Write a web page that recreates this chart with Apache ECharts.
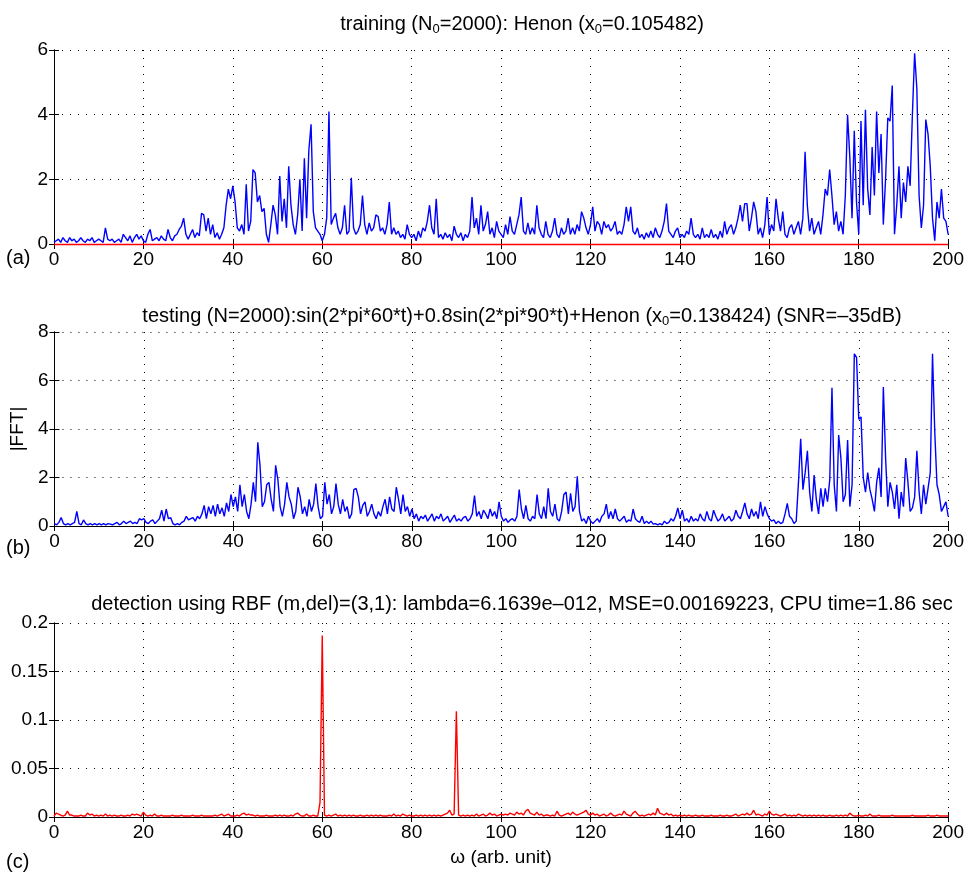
<!DOCTYPE html>
<html>
<head>
<meta charset="utf-8">
<script src="https://cdn.jsdelivr.net/npm/echarts@6/dist/echarts.min.js"></script>
<style>
  html, body { margin: 0; padding: 0; background: #fff; }
  #chart { width: 967px; height: 874px; }
</style>
</head>
<body>
<div id="chart"></div>
<script>
// spectra sampled every 0.5 arb. unit, 0..200 (401 values each)
const STEP = 0.5;

// (a) training: Henon
const trainData = [
  0.05, 0.1, 0.15, 0.05, 0.2, 0.1, 0.05, 0.2, 0.1, 0.15, 0.05, 0.1, 0.2, 0.1, 0.05, 0.15, 0.1, 0.2, 0.05, 0.1, 0.15,
  0.1, 0.05, 0.5, 0.15, 0.1, 0.15, 0.05, 0.1, 0.15, 0.05, 0.3, 0.2, 0.1, 0.25, 0.05, 0.2, 0.3, 0.15, 0.25, 0.1,
  0.05, 0.3, 0.45, 0.1, 0.15, 0.2, 0.1, 0.25, 0.15, 0.1, 0.45, 0.2, 0.1, 0.25, 0.3, 0.45, 0.55, 0.8, 0.3, 0.15,
  0.3, 0.45, 0.2, 0.35, 0.25, 0.95, 0.9, 0.4, 0.8, 0.3, 0.6, 0.2, 0.35, 0.15, 0.3, 0.5, 1.2, 1.7, 1.4, 1.8,
  1.3, 0.5, 0.4, 0.6, 0.3, 1.85, 0.4, 0.7, 2.3, 2.2, 1.3, 1.5, 1.0, 1.1, 0.3, 0.05, 0.6, 1.2, 0.9, 0.3,
  2.1, 0.7, 1.4, 0.5, 2.4, 1.2, 0.6, 0.3, 0.9, 2.0, 0.4, 2.65, 0.8, 2.9, 3.7, 1.0, 0.5, 0.4, 0.3, 0.1,
  0.3, 0.8, 4.1, 0.6, 0.8, 0.95, 0.5, 0.3, 0.5, 1.2, 0.3, 0.4, 2.05, 0.5, 0.3, 0.4, 0.6, 1.5, 0.6, 0.3,
  0.65, 0.4, 0.5, 0.9, 0.85, 0.4, 0.5, 0.3, 0.6, 1.3, 0.3, 0.5, 0.3, 0.4, 0.2, 0.3, 0.15, 0.6, 0.3, 0.2,
  0.3, 0.1, 0.4, 0.2, 0.5, 0.4, 0.7, 1.2, 0.5, 0.3, 1.4, 0.2, 0.3, 0.15, 0.35, 0.2, 0.3, 0.1, 0.55, 0.3,
  0.2, 0.35, 0.1, 0.3, 0.2, 0.4, 1.45, 0.5, 0.8, 0.3, 1.2, 0.4, 0.6, 1.0, 0.3, 0.5, 0.2, 0.7, 0.4, 0.3,
  0.2, 0.6, 0.3, 0.85, 0.4, 0.3, 0.6, 0.9, 1.45, 0.4, 0.3, 0.65, 0.3, 0.5, 0.3, 1.2, 0.5, 0.3, 0.2, 0.7,
  0.3, 0.2, 0.4, 0.8, 0.3, 0.2, 0.5, 0.3, 0.4, 0.8, 0.3, 0.5, 0.3, 0.6, 0.4, 1.0, 0.8, 0.5, 0.3, 0.6,
  1.15, 0.4, 0.7, 0.6, 0.3, 0.7, 0.5, 0.6, 0.4, 0.5, 0.7, 0.3, 0.4, 0.3, 0.6, 1.15, 0.7, 1.15, 0.4, 0.3,
  0.5, 0.2, 0.3, 0.15, 0.35, 0.2, 0.4, 0.2, 0.5, 0.3, 0.2, 0.4, 0.7, 1.25, 0.4, 0.3, 0.2, 0.4, 0.5, 0.2,
  0.3, 0.2, 0.4, 0.3, 0.8, 0.3, 0.2, 0.3, 0.15, 0.5, 0.2, 0.3, 0.2, 0.45, 0.2, 0.3, 0.15, 0.4, 0.2, 0.7,
  0.3, 0.5, 0.6, 0.3, 0.5, 0.8, 1.2, 0.7, 1.25, 1.25, 0.4, 0.8, 1.3, 1.0, 0.3, 0.5, 0.2, 0.6, 1.45, 0.3,
  0.6, 0.4, 1.4, 0.8, 0.4, 1.0, 0.3, 0.2, 0.5, 0.6, 0.3, 0.5, 0.7, 0.3, 0.8, 2.85, 1.2, 0.4, 0.8, 0.3,
  0.5, 0.7, 0.3, 0.9, 1.7, 1.5, 2.3, 1.5, 0.6, 1.0, 0.4, 0.7, 0.3, 1.5, 4.0, 2.7, 0.8, 3.5, 1.3, 0.3,
  3.8, 1.2, 4.15, 1.7, 0.9, 3.0, 1.5, 4.1, 2.2, 3.4, 0.6, 2.0, 3.9, 3.8, 4.9, 0.3, 1.2, 2.4, 0.8, 1.9,
  1.3, 2.4, 1.8, 4.0, 5.9, 4.8, 1.5, 0.5, 1.2, 3.85, 3.4, 2.4, 0.8, 0.1, 1.3, 0.8, 1.7, 0.8, 0.7, 0.3
];

// (b) testing: two sines + Henon, SNR -35dB
const testData = [
  0.1, 0.05, 0.15, 0.35, 0.1, 0.05, 0.1, 0.05, 0.1, 0.15, 0.6, 0.1, 0.05, 0.25, 0.1, 0.05, 0.1, 0.05, 0.1, 0.05, 0.1,
  0.05, 0.1, 0.05, 0.1, 0.08, 0.05, 0.1, 0.15, 0.05, 0.1, 0.2, 0.1, 0.15, 0.2, 0.1, 0.15, 0.1, 0.3, 0.25, 0.3,
  0.15, 0.1, 0.2, 0.25, 0.1, 0.2, 0.3, 0.65, 0.2, 0.7, 0.3, 0.35, 0.1, 0.05, 0.1, 0.05, 0.15, 0.2, 0.4, 0.25,
  0.3, 0.35, 0.2, 0.4, 0.3, 0.5, 0.85, 0.3, 0.8, 0.5, 0.85, 0.4, 0.9, 0.5, 0.75, 0.4, 0.95, 0.6, 1.3, 0.8,
  1.2, 0.6, 1.7, 0.8, 1.3, 0.6, 0.3, 0.9, 1.8, 1.0, 3.45, 2.5, 0.8, 1.0, 1.7, 1.8, 1.1, 0.6, 2.5, 1.9,
  0.8, 0.4, 0.9, 1.8, 1.2, 0.9, 0.3, 0.6, 1.6, 1.2, 0.5, 0.8, 0.4, 1.1, 0.6, 0.9, 1.75, 0.8, 0.3, 0.4,
  1.8, 0.9, 1.3, 0.5, 0.8, 1.75, 0.9, 0.5, 1.1, 0.6, 0.8, 0.3, 0.5, 1.5, 1.55, 1.2, 0.5, 0.85, 1.0, 0.4,
  0.6, 0.9, 0.5, 0.3, 0.6, 0.4, 0.8, 1.1, 0.5, 1.2, 0.7, 0.6, 1.6, 1.1, 0.5, 1.3, 0.6, 0.8, 0.4, 0.7,
  0.3, 0.5, 0.2, 0.4, 0.3, 0.45, 0.2, 0.35, 0.5, 0.2, 0.4, 0.3, 0.5, 0.2, 0.3, 0.4, 0.15, 0.3, 0.45, 0.2,
  0.3, 0.2, 0.35, 0.4, 0.2, 0.3, 0.5, 1.25, 0.4, 0.6, 0.3, 0.65, 0.5, 0.3, 0.7, 0.4, 0.6, 0.3, 1.0, 0.4,
  0.2, 0.3, 0.15, 0.25, 0.3, 0.2, 0.4, 1.5, 0.7, 0.3, 0.85, 0.3, 0.2, 0.4, 0.3, 1.3, 0.5, 0.3, 0.8, 0.3,
  1.55, 0.6, 0.4, 0.9, 0.3, 0.2, 0.6, 1.3, 1.4, 0.5, 1.35, 0.6, 0.8, 2.05, 0.6, 0.2, 0.3, 0.1, 0.4, 0.2,
  0.1, 0.2, 0.3, 0.15, 0.4, 0.5, 0.9, 0.3, 0.6, 0.3, 0.7, 0.3, 0.2, 0.3, 0.4, 0.15, 0.25, 0.2, 0.7, 0.3,
  0.2, 0.15, 0.4, 0.1, 0.2, 0.1, 0.2, 0.08, 0.1, 0.05, 0.1, 0.05, 0.2, 0.1, 0.15, 0.3, 0.2, 0.4, 0.75, 0.3,
  0.65, 0.2, 0.3, 0.15, 0.4, 0.2, 0.3, 0.2, 0.5, 0.3, 0.2, 0.6, 0.3, 0.2, 0.65, 0.4, 0.2, 0.3, 0.5, 0.2,
  0.3, 0.4, 0.2, 0.3, 0.65, 0.4, 0.3, 0.6, 0.95, 0.5, 0.3, 0.7, 0.4, 0.6, 0.3, 1.0, 0.4, 0.8, 0.5, 0.3,
  0.2, 0.25, 0.1, 0.2, 0.1, 0.15, 0.5, 0.93, 0.4, 0.3, 0.1, 0.2, 1.8, 3.6, 1.5, 2.2, 3.1, 1.4, 0.6, 2.1,
  1.1, 0.5, 1.55, 0.8, 1.55, 1.0, 1.9, 5.7, 1.7, 0.6, 3.75, 2.8, 1.0, 1.3, 3.55, 0.8, 1.7, 7.1, 6.95, 4.4,
  4.5, 2.0, 1.4, 2.2, 1.5, 1.1, 0.6, 1.8, 2.4, 1.2, 5.73, 2.8, 0.8, 1.8, 1.4, 0.7, 1.7, 0.3, 1.4, 0.8,
  2.8, 1.8, 0.6, 0.75, 1.2, 3.1, 1.4, 0.5, 1.7, 0.9, 1.55, 2.2, 7.1, 3.9, 1.7, 1.3, 0.6, 0.8, 1.0, 0.4
];

// (c) detection output of RBF network
const detectData = [
  0.001, 0.004, 0.003, 0.002, 0.001, 0.002, 0.006, 0.002, 0.002, 0.001, 0.001, 0.001, 0.002, 0.001, 0.001, 0.004, 0.002, 0.003, 0.001, 0.002, 0.001,
  0.002, 0.001, 0.003, 0.001, 0.002, 0.001, 0.002, 0.001, 0.001, 0.002, 0.001, 0.001, 0.002, 0.001, 0.003, 0.002, 0.003, 0.002, 0.001, 0.005,
  0.002, 0.001, 0.002, 0.001, 0.003, 0.001, 0.001, 0.002, 0.001, 0.001, 0.001, 0.001, 0.002, 0.001, 0.001, 0.001, 0.002, 0.001, 0.001, 0.001,
  0.001, 0.002, 0.001, 0.001, 0.001, 0.002, 0.001, 0.001, 0.001, 0.001, 0.001, 0.002, 0.001, 0.002, 0.003, 0.001, 0.002, 0.003, 0.001, 0.001,
  0.001, 0.002, 0.001, 0.003, 0.004, 0.002, 0.003, 0.002, 0.002, 0.001, 0.002, 0.001, 0.001, 0.001, 0.002, 0.001, 0.001, 0.001, 0.002, 0.001,
  0.002, 0.001, 0.002, 0.001, 0.001, 0.002, 0.001, 0.003, 0.004, 0.002, 0.001, 0.001, 0.003, 0.001, 0.001, 0.002, 0.001, 0.001, 0.015, 0.187,
  0.002, 0.001, 0.002, 0.001, 0.002, 0.003, 0.001, 0.002, 0.001, 0.002, 0.001, 0.002, 0.001, 0.002, 0.001, 0.001, 0.002, 0.001, 0.001, 0.002,
  0.001, 0.002, 0.001, 0.002, 0.001, 0.002, 0.001, 0.001, 0.001, 0.002, 0.001, 0.003, 0.001, 0.002, 0.001, 0.003, 0.002, 0.001, 0.002, 0.001,
  0.001, 0.002, 0.001, 0.002, 0.001, 0.002, 0.001, 0.002, 0.001, 0.002, 0.001, 0.002, 0.001, 0.002, 0.003, 0.004, 0.007, 0.002, 0.003, 0.109,
  0.002, 0.001, 0.002, 0.001, 0.002, 0.001, 0.002, 0.001, 0.003, 0.001, 0.002, 0.003, 0.001, 0.002, 0.004, 0.002, 0.003, 0.001, 0.002, 0.003,
  0.002, 0.003, 0.002, 0.004, 0.003, 0.002, 0.005, 0.003, 0.004, 0.002, 0.006, 0.008, 0.004, 0.003, 0.002, 0.005, 0.002, 0.003, 0.001, 0.002,
  0.002, 0.001, 0.002, 0.001, 0.006, 0.002, 0.001, 0.002, 0.003, 0.004, 0.002, 0.005, 0.003, 0.002, 0.003, 0.004, 0.005, 0.007, 0.003, 0.002,
  0.004, 0.002, 0.003, 0.001, 0.002, 0.003, 0.001, 0.002, 0.004, 0.002, 0.001, 0.002, 0.003, 0.002, 0.006, 0.003, 0.002, 0.001, 0.004, 0.006,
  0.003, 0.001, 0.002, 0.001, 0.002, 0.003, 0.002, 0.004, 0.002, 0.009, 0.004, 0.003, 0.002, 0.004, 0.002, 0.003, 0.001, 0.002, 0.001, 0.002,
  0.001, 0.002, 0.001, 0.002, 0.001, 0.001, 0.002, 0.001, 0.001, 0.002, 0.001, 0.001, 0.001, 0.002, 0.001, 0.001, 0.001, 0.002, 0.001, 0.001,
  0.002, 0.001, 0.001, 0.002, 0.003, 0.001, 0.002, 0.003, 0.002, 0.004, 0.002, 0.003, 0.007, 0.002, 0.003, 0.002, 0.001, 0.003, 0.002, 0.006,
  0.003, 0.002, 0.003, 0.002, 0.001, 0.002, 0.003, 0.001, 0.002, 0.001, 0.002, 0.001, 0.003, 0.002, 0.001, 0.002, 0.001, 0.002, 0.001, 0.002,
  0.001, 0.002, 0.001, 0.002, 0.001, 0.001, 0.002, 0.001, 0.001, 0.002, 0.001, 0.002, 0.001, 0.002, 0.001, 0.004, 0.002, 0.001, 0.001, 0.002,
  0.001, 0.001, 0.002, 0.001, 0.003, 0.001, 0.001, 0.001, 0.002, 0.001, 0.001, 0.001, 0.001, 0.001, 0.002, 0.001, 0.001, 0.001, 0.001, 0.001,
  0.001, 0.001, 0.001, 0.002, 0.001, 0.001, 0.001, 0.001, 0.001, 0.001, 0.002, 0.001, 0.001, 0.001, 0.002, 0.001, 0.001, 0.001, 0.001, 0.001
];

const titles = [
  'training (N{s|0}=2000): Henon (x{s|0}=0.105482)',
  'testing (N=2000):sin(2*pi*60*t)+0.8sin(2*pi*90*t)+Henon (x{s|0}=0.138424) (SNR=\u201335dB)',
  'detection using RBF (m,del)=(3,1): lambda=6.1639e\u2013012, MSE=0.00169223, CPU time=1.86 sec'
];
const panelLabels = ['(a)', '(b)', '(c)'];
const yMax = [6, 8, 0.2];
const yStep = [2, 2, 0.05];

const FONT = '"Liberation Sans", Arial, Helvetica, sans-serif';
const gridTops = [50, 332, 623];
const titleTops = [7, 299, 589];
const labelTops = [248, 538, 852];

function toPairs(vals) {
  return vals.map((v, i) => [i * STEP, v]);
}

const myChart = echarts.init(document.getElementById('chart'));

const grids = [];
const xAxes = [];
const yAxes = [];
gridTops.forEach((top, k) => {
  grids.push({ left: 54, right: 16, top: top, height: 194 });
  const common = {
    gridIndex: k,
    axisLine: { show: true, lineStyle: { color: '#000', width: 1 } },
    axisTick: { show: true, inside: true, length: 5, lineStyle: { color: '#000' } },
  };
  // bottom x axis with labels and dotted grid
  xAxes.push({
    ...common,
    type: 'value', min: 0, max: 200, interval: 20,
    axisLabel: { color: '#000', fontSize: 19, fontFamily: FONT, margin: 6 },
    splitLine: { show: true, lineStyle: { color: '#000', width: 1, type: [1, 7] } },
    name: k === 2 ? '\u03c9 (arb. unit)' : '',
    nameLocation: 'middle', nameGap: 31,
    nameTextStyle: { color: '#000', fontSize: 19, fontFamily: FONT },
  });
  // top x axis: box edge + ticks
  xAxes.push({
    ...common,
    type: 'value', min: 0, max: 200, interval: 20, position: 'top',
    axisLabel: { show: false }, splitLine: { show: false },
  });
  yAxes.push({
    ...common,
    type: 'value', min: 0, max: yMax[k], interval: yStep[k],
    axisLabel: { color: '#000', fontSize: 19, fontFamily: FONT, margin: 6 },
    splitLine: { show: true, lineStyle: { color: '#000', width: 1, type: [1, 7] } },
    name: k === 1 ? '|FFT|' : '',
    nameLocation: 'middle', nameGap: 27,
    nameTextStyle: { color: '#000', fontSize: 19, fontFamily: FONT },
  });
  yAxes.push({
    ...common,
    type: 'value', min: 0, max: yMax[k], interval: yStep[k], position: 'right',
    axisLabel: { show: false }, splitLine: { show: false },
  });
});

let option = {
  animation: false,
  backgroundColor: '#fff',
  title: titles.map((t, k) => ({
    text: t,
    left: 517,
    top: titleTops[k],
    textAlign: 'center',
    textStyle: {
      color: '#000', fontSize: 20, fontWeight: 'normal', fontFamily: FONT,
      rich: { s: { fontSize: 13, fontFamily: FONT, color: '#000', padding: [11, 0, 0, 0] } },
    },
  })),
  grid: grids,
  xAxis: xAxes,
  yAxis: yAxes,
  graphic: panelLabels.map((t, k) => ({
    type: 'text',
    left: 6,
    top: labelTops[k],
    style: { text: t, fill: '#000', fontSize: 20, fontFamily: FONT },
  })),
  series: [
    {
      type: 'line', xAxisIndex: 0, yAxisIndex: 0,
      data: toPairs(trainData), showSymbol: false,
      lineStyle: { color: '#0000ff', width: 1.4 },
      markLine: {
        silent: true, symbol: 'none', label: { show: false },
        lineStyle: { color: '#ff0000', width: 1.3, type: 'solid' },
        data: [{ yAxis: 0 }],
      },
      z: 3,
    },
    {
      type: 'line', xAxisIndex: 2, yAxisIndex: 2,
      data: toPairs(testData), showSymbol: false,
      lineStyle: { color: '#0000ff', width: 1.4 },
    },
    {
      type: 'line', xAxisIndex: 4, yAxisIndex: 4,
      data: toPairs(detectData), showSymbol: false,
      lineStyle: { color: '#ff0000', width: 1.4 },
    },
  ],
};

myChart.setOption(option);
</script>
</body>
</html>
